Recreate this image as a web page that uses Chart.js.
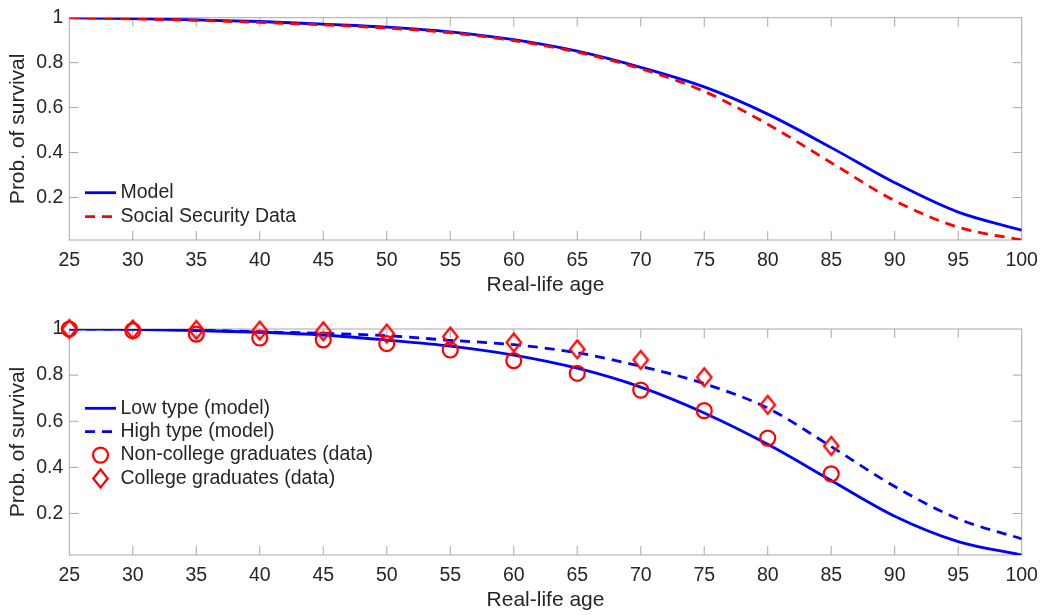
<!DOCTYPE html>
<html>
<head>
<meta charset="utf-8">
<script src="https://cdn.jsdelivr.net/npm/chart.js@4.4.1/dist/chart.umd.min.js"></script>
<style>
  body { margin: 0; background: #fff; }
  .panel { position: absolute; left: 0; width: 1047px; }
  #top { top: 0; height: 300px; }
  #bottom { top: 300px; height: 315px; }
</style>
</head>
<body>
<div class="panel" id="top"><canvas id="survChart"></canvas></div>
<div class="panel" id="bottom"><canvas id="typeChart"></canvas></div>
<script>
// x axis: real-life age
var ages = [25, 30, 35, 40, 45, 50, 55, 60, 65, 70, 75, 80, 85, 90, 95, 100];
var xTicks = [25, 30, 35, 40, 45, 50, 55, 60, 65, 70, 75, 80, 85, 90, 95, 100];
var yTicks = [0.2, 0.4, 0.6, 0.8, 1];

// top panel
var model = [1, 0.996, 0.99, 0.983, 0.971, 0.958, 0.937, 0.902, 0.851, 0.779, 0.692, 0.571, 0.422, 0.266, 0.135, 0.055];
var ssData = [1, 0.995, 0.988, 0.979, 0.968, 0.954, 0.933, 0.898, 0.847, 0.773, 0.672, 0.526, 0.355, 0.186, 0.068, 0.011];

// bottom panel
var lowType = [1, 0.998, 0.993, 0.986, 0.974, 0.952, 0.926, 0.887, 0.83, 0.748, 0.636, 0.5, 0.343, 0.188, 0.078, 0.02];
var highType = [1, 0.999, 0.995, 0.988, 0.981, 0.971, 0.951, 0.932, 0.897, 0.838, 0.763, 0.657, 0.49, 0.317, 0.177, 0.09];
var dataAges = [25, 30, 35, 40, 45, 50, 55, 60, 65, 70, 75, 80, 85];
var nonCollege = [1, 0.993, 0.978, 0.961, 0.953, 0.937, 0.909, 0.863, 0.808, 0.735, 0.646, 0.527, 0.372];
var college = [1, 0.998, 0.996, 0.993, 0.99, 0.98, 0.967, 0.942, 0.912, 0.866, 0.791, 0.671, 0.493];

Chart.defaults.font.family = "'Liberation Sans', Arial, Helvetica, sans-serif";
Chart.defaults.color = "#262626";

var BLUE = "#0000ff";
var RED = "#ff0000";
var AXIS = "#a8a8a8";
var DASH = [10, 7];

function pts(xs, ys) {
  return xs.map(function (x, i) { return { x: x, y: ys[i] }; });
}

// hollow diamond marker like matlab 'd'
function diamond(w, h, color, lw) {
  var c = document.createElement("canvas");
  c.width = Math.ceil(w + lw * 2);
  c.height = Math.ceil(h + lw * 2);
  var g = c.getContext("2d");
  var cx = c.width / 2, cy = c.height / 2;
  g.strokeStyle = color;
  g.lineWidth = lw;
  g.beginPath();
  g.moveTo(cx, cy - h / 2);
  g.lineTo(cx + w / 2, cy);
  g.lineTo(cx, cy + h / 2);
  g.lineTo(cx - w / 2, cy);
  g.closePath();
  g.stroke();
  return c;
}
var diamondImg = diamond(14.5, 18, RED, 2.2);

// axes box with inward ticks on all four sides
var boxPlugin = {
  id: "matlabBox",
  beforeDatasetsDraw: function (chart) {
    var a = chart.chartArea, ctx = chart.ctx;
    var xs = chart.scales.x, ys = chart.scales.y, tl = 9;
    ctx.save();
    ctx.strokeStyle = AXIS;
    ctx.lineWidth = 1;
    ctx.strokeRect(a.left, a.top, a.right - a.left, a.bottom - a.top);
    ctx.beginPath();
    xs.ticks.forEach(function (t) {
      var px = xs.getPixelForValue(t.value);
      if (px <= a.left + 1 || px >= a.right - 1) return;
      ctx.moveTo(px, a.bottom); ctx.lineTo(px, a.bottom - tl);
      ctx.moveTo(px, a.top); ctx.lineTo(px, a.top + tl);
    });
    ys.ticks.forEach(function (t) {
      var py = ys.getPixelForValue(t.value);
      if (py <= a.top + 1 || py >= a.bottom - 1) return;
      ctx.moveTo(a.left, py); ctx.lineTo(a.left + tl, py);
      ctx.moveTo(a.right, py); ctx.lineTo(a.right - tl, py);
    });
    ctx.stroke();
    ctx.restore();
  }
};

// legend drawn inside the axes
var legendPlugin = {
  id: "innerLegend",
  afterDraw: function (chart, args, opts) {
    var ctx = chart.ctx;
    ctx.save();
    ctx.font = "19.5px 'Liberation Sans', Arial, sans-serif";
    ctx.textBaseline = "middle";
    chart.data.datasets.forEach(function (ds, i) {
      var y = opts.y + i * opts.rowH;
      var cx = opts.x + opts.w / 2;
      if (ds.showLine === false) {
        if (ds.pointStyle === "circle") {
          ctx.strokeStyle = ds.borderColor;
          ctx.lineWidth = ds.pointBorderWidth;
          ctx.setLineDash([]);
          ctx.beginPath();
          ctx.arc(cx, y, ds.pointRadius, 0, Math.PI * 2);
          ctx.stroke();
        } else {
          var img = ds.pointStyle;
          ctx.drawImage(img, cx - img.width / 2, y - img.height / 2);
        }
      } else {
        ctx.strokeStyle = ds.borderColor;
        ctx.lineWidth = ds.borderWidth;
        ctx.setLineDash(ds.borderDash || []);
        ctx.beginPath();
        ctx.moveTo(opts.x, y);
        ctx.lineTo(opts.x + opts.w, y);
        ctx.stroke();
      }
      ctx.setLineDash([]);
      ctx.fillStyle = "#262626";
      ctx.fillText(ds.label, opts.x + opts.w + opts.gap, y);
    });
    ctx.restore();
  }
};

function makeScales(yMin, xTitlePad) {
  return {
    x: {
      type: "linear",
      min: 25,
      max: 100,
      grid: { display: false, drawTicks: false },
      border: { display: false },
      afterBuildTicks: function (s) { s.ticks = xTicks.map(function (v) { return { value: v }; }); },
      afterFit: function (s) { s.height = 60; },
      ticks: { padding: 8.5, font: { size: 19.5 }, color: "#262626" },
      title: { display: true, text: "Real-life age", font: { size: 21 }, color: "#262626", padding: { top: 0, bottom: xTitlePad } }
    },
    y: {
      min: yMin,
      max: 1,
      grid: { display: false, drawTicks: false },
      border: { display: false },
      afterBuildTicks: function (s) { s.ticks = yTicks.map(function (v) { return { value: v }; }); },
      afterFit: function (s) { s.width = 69.3; },
      ticks: { padding: 6, font: { size: 19.5 }, color: "#262626", callback: function (v) { return String(v); } },
      title: { display: true, text: "Prob. of survival", font: { size: 21 }, color: "#262626", padding: { top: 6, bottom: 0 } }
    }
  };
}

var survChart = new Chart(document.getElementById("survChart"), {
  type: "line",
  data: {
    datasets: [
      {
        label: "Model",
        data: pts(ages, model),
        borderColor: BLUE,
        borderWidth: 2.8,
        pointRadius: 0,
        cubicInterpolationMode: "monotone",
        order: 1
      },
      {
        label: "Social Security Data",
        data: pts(ages, ssData),
        borderColor: RED,
        borderWidth: 2.8,
        borderDash: DASH,
        pointRadius: 0,
        cubicInterpolationMode: "monotone",
        order: 0
      }
    ]
  },
  options: {
    responsive: true,
    maintainAspectRatio: false,
    animation: false,
    layout: { padding: { top: 13.3, right: 25.3, left: 0, bottom: 0 } },
    scales: makeScales(0.011, 2.4),
    plugins: {
      legend: { display: false },
      tooltip: { enabled: false },
      innerLegend: { x: 85, w: 31, gap: 4.5, y: 192.7, rowH: 24 }
    }
  },
  plugins: [boxPlugin, legendPlugin]
});

var typeChart = new Chart(document.getElementById("typeChart"), {
  type: "line",
  data: {
    datasets: [
      {
        label: "Low type (model)",
        data: pts(ages, lowType),
        borderColor: BLUE,
        borderWidth: 2.8,
        pointRadius: 0,
        cubicInterpolationMode: "monotone",
        order: 2
      },
      {
        label: "High type (model)",
        data: pts(ages, highType),
        borderColor: BLUE,
        borderWidth: 2.8,
        borderDash: DASH,
        pointRadius: 0,
        cubicInterpolationMode: "monotone",
        order: 2
      },
      {
        label: "Non-college graduates (data)",
        data: pts(dataAges, nonCollege),
        showLine: false,
        borderColor: RED,
        backgroundColor: "rgba(0,0,0,0)",
        pointStyle: "circle",
        pointRadius: 7.5,
        pointBorderWidth: 2.2,
        pointBorderColor: RED,
        pointBackgroundColor: "rgba(0,0,0,0)",
        clip: false,
        order: 0
      },
      {
        label: "College graduates (data)",
        data: pts(dataAges, college),
        showLine: false,
        borderColor: RED,
        pointStyle: diamondImg,
        pointRadius: 9,
        clip: false,
        order: 0
      }
    ]
  },
  options: {
    responsive: true,
    maintainAspectRatio: false,
    animation: false,
    layout: { padding: { top: 29, right: 25.3, left: 0, bottom: 0 } },
    scales: makeScales(0.02, 2.2),
    plugins: {
      legend: { display: false },
      tooltip: { enabled: false },
      innerLegend: { x: 85, w: 31, gap: 4.5, y: 108.3, rowH: 23.4 }
    }
  },
  plugins: [boxPlugin, legendPlugin]
});
</script>
</body>
</html>
